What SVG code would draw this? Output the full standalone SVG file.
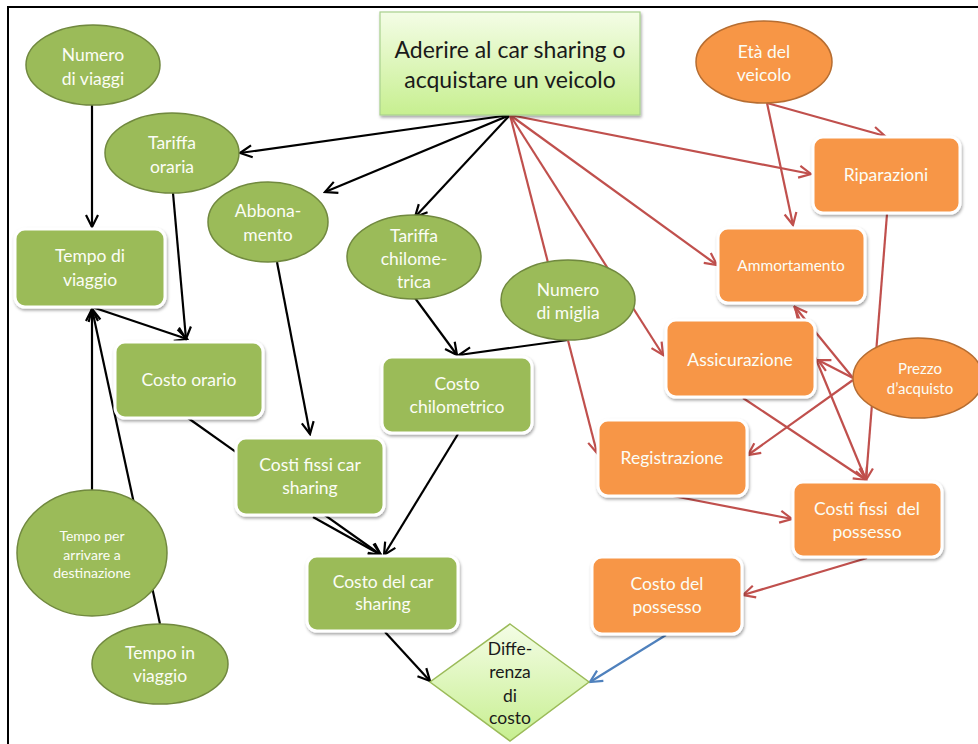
<svg xmlns="http://www.w3.org/2000/svg" width="978" height="744" viewBox="0 0 978 744">
<defs>
<style>
.t{font-family:Lato,"Liberation Sans",sans-serif;font-size:17.5px;fill:#fbfdf6;text-anchor:middle}
.ts{font-size:15.5px}
.tp{font-size:15px}
.tx{font-size:14px}
.dk{fill:#1a1a1a}
.ge{fill:#9bbb59;stroke:#71893f;stroke-width:1.5}
.oe{fill:#f79646;stroke:#b66d31;stroke-width:1.5}
.gr{fill:#9bbb59;stroke:#fff;stroke-width:3;filter:url(#sh)}
.or{fill:#f79646;stroke:#fff;stroke-width:3;filter:url(#sh)}
.k{stroke:#000;stroke-width:2.2;fill:none;marker-end:url(#ak)}
.r{stroke:#c0504d;stroke-width:2.2;fill:none;marker-end:url(#ar)}
.b{stroke:#4f81bd;stroke-width:2.2;fill:none;marker-end:url(#ab)}
</style>
<filter id="sh" x="-20%" y="-20%" width="140%" height="150%">
<feDropShadow dx="1" dy="2" stdDeviation="1.8" flood-color="#000" flood-opacity="0.35"/>
</filter>
<linearGradient id="lg" x1="0" y1="0" x2="0" y2="1">
<stop offset="0" stop-color="#f4fde6"/>
<stop offset="1" stop-color="#c7ef90"/>
</linearGradient>
<marker id="ak" viewBox="0 0 15 15" refX="13" refY="7.5" markerWidth="15" markerHeight="15" markerUnits="userSpaceOnUse" orient="auto">
<path d="M1,1.5 L13,7.5 L1,13.5" fill="none" stroke="#000" stroke-width="2.2"/>
</marker>
<marker id="ar" viewBox="0 0 15 15" refX="13" refY="7.5" markerWidth="15" markerHeight="15" markerUnits="userSpaceOnUse" orient="auto">
<path d="M1,1.5 L13,7.5 L1,13.5" fill="none" stroke="#c0504d" stroke-width="2.2"/>
</marker>
<marker id="ab" viewBox="0 0 15 15" refX="13" refY="7.5" markerWidth="15" markerHeight="15" markerUnits="userSpaceOnUse" orient="auto">
<path d="M1,1.5 L13,7.5 L1,13.5" fill="none" stroke="#4f81bd" stroke-width="2.2"/>
</marker>
</defs>
<rect width="978" height="744" fill="#fff"/>
<path d="M8,744 V7 H978" fill="none" stroke="#000" stroke-width="2"/>

<g id="connectors">
<line class="k" x1="510" y1="115" x2="240" y2="153"/>
<line class="k" x1="510" y1="115" x2="325" y2="192"/>
<line class="k" x1="510" y1="115" x2="415" y2="217"/>
<line class="k" x1="92" y1="105" x2="92" y2="227"/>
<line class="k" x1="173" y1="193" x2="186" y2="339"/>
<line class="k" x1="92" y1="307" x2="187" y2="339"/>
<line class="k" x1="92" y1="490" x2="92" y2="309"/>
<line class="k" x1="160" y1="624" x2="92" y2="309"/>
<line class="k" x1="277" y1="262" x2="310" y2="434"/>
<line class="k" x1="188" y1="418" x2="381" y2="555"/>
<line class="k" x1="313" y1="517" x2="381" y2="555"/>
<line class="k" x1="458" y1="434" x2="384" y2="555"/>
<line class="k" x1="415" y1="298" x2="457" y2="355"/>
<line class="k" x1="568" y1="340" x2="459" y2="355"/>
<line class="k" x1="385" y1="632" x2="430" y2="681"/>
<line class="b" x1="666" y1="635" x2="590" y2="682"/>
<line class="r" x1="510" y1="115" x2="811" y2="174"/>
<line class="r" x1="510" y1="115" x2="717" y2="265"/>
<line class="r" x1="510" y1="115" x2="663" y2="355"/>
<line class="r" x1="510" y1="115" x2="597" y2="453"/>
<line class="r" x1="767" y1="103" x2="885" y2="136"/>
<line class="r" x1="767" y1="103" x2="793" y2="225"/>
<line class="r" x1="887" y1="214" x2="866" y2="480"/>
<line class="r" x1="794" y1="306" x2="866" y2="480"/>
<line class="r" x1="743" y1="398" x2="866" y2="480"/>
<line class="r" x1="853" y1="378" x2="795" y2="307"/>
<line class="r" x1="853" y1="378" x2="818" y2="360"/>
<line class="r" x1="853" y1="380" x2="748" y2="455"/>
<line class="r" x1="673" y1="496" x2="792" y2="519"/>
<line class="r" x1="867" y1="558" x2="743" y2="595"/>
</g>

<g id="aderire">
<rect x="380" y="12" width="260" height="103" fill="url(#lg)" stroke="#a9d18e" stroke-width="1.2" filter="url(#sh)"/>
<text class="t dk" style="font-size:23px" x="510" y="58">Aderire al car sharing o</text>
<text class="t dk" style="font-size:23px" x="510" y="88">acquistare un veicolo</text>
</g>
<g id="numero-viaggi">
<ellipse class="ge" cx="93" cy="65" rx="67" ry="40"/>
<text class="t" x="93" y="61">Numero</text>
<text class="t" x="93" y="85">di viaggi</text>
</g>
<g id="tariffa-oraria">
<ellipse class="ge" cx="172" cy="153" rx="67" ry="40"/>
<text class="t" x="172" y="149">Tariffa</text>
<text class="t" x="172" y="173">oraria</text>
</g>
<g id="abbonamento">
<ellipse class="ge" cx="268" cy="222" rx="60" ry="40"/>
<text class="t" x="268" y="217">Abbona-</text>
<text class="t" x="268" y="241">mento</text>
</g>
<g id="tariffa-chilometrica">
<ellipse class="ge" cx="414" cy="257" rx="67" ry="42"/>
<text class="t" x="414" y="242">Tariffa</text>
<text class="t" x="414" y="265">chilome-</text>
<text class="t" x="414" y="288">trica</text>
</g>
<g id="numero-miglia">
<ellipse class="ge" cx="568" cy="300" rx="67" ry="40"/>
<text class="t" x="568" y="296">Numero</text>
<text class="t" x="568" y="319">di miglia</text>
</g>
<g id="tempo-viaggio">
<rect class="gr" x="15" y="229" width="150" height="78" rx="10"/>
<text class="t" x="90" y="262">Tempo di</text>
<text class="t" x="90" y="286">viaggio</text>
</g>
<g id="costo-orario">
<rect class="gr" x="115" y="342" width="148" height="76" rx="10"/>
<text class="t" x="189" y="386">Costo orario</text>
</g>
<g id="costo-chilometrico">
<rect class="gr" x="382" y="357" width="150" height="76" rx="10"/>
<text class="t" x="457" y="390">Costo</text>
<text class="t" x="457" y="413">chilometrico</text>
</g>
<g id="costi-fissi-car-sharing">
<rect class="gr" x="236" y="438" width="148" height="77" rx="10"/>
<text class="t" x="310" y="471">Costi fissi car</text>
<text class="t" x="310" y="494">sharing</text>
</g>
<g id="costo-car-sharing">
<rect class="gr" x="307" y="556" width="151" height="75" rx="10"/>
<text class="t" x="383" y="588">Costo del car</text>
<text class="t" x="383" y="610">sharing</text>
</g>
<g id="tempo-arrivare">
<ellipse class="ge" cx="92" cy="553" rx="75" ry="63"/>
<text class="t tx" x="92" y="541">Tempo per</text>
<text class="t tx" x="92" y="560">arrivare a</text>
<text class="t tx" x="92" y="578">destinazione</text>
</g>
<g id="tempo-in-viaggio">
<ellipse class="ge" cx="160" cy="664" rx="68" ry="40"/>
<text class="t" x="160" y="659">Tempo in</text>
<text class="t" x="160" y="682">viaggio</text>
</g>
<g id="eta-veicolo">
<ellipse class="oe" cx="764" cy="62" rx="68" ry="41"/>
<text class="t" x="764" y="58">Età del</text>
<text class="t" x="764" y="81">veicolo</text>
</g>
<g id="riparazioni">
<rect class="or" x="813" y="137" width="147" height="76" rx="10"/>
<text class="t" x="886" y="181">Riparazioni</text>
</g>
<g id="ammortamento">
<rect class="or" x="718" y="228" width="147" height="75" rx="10"/>
<text class="t ts" x="791" y="271">Ammortamento</text>
</g>
<g id="assicurazione">
<rect class="or" x="666" y="320" width="149" height="77" rx="10"/>
<text class="t" x="740" y="366">Assicurazione</text>
</g>
<g id="prezzo-acquisto">
<ellipse class="oe" cx="918" cy="378" rx="65" ry="40"/>
<text class="t tp" x="920" y="374">Prezzo</text>
<text class="t tp" x="920" y="394">d’acquisto</text>
</g>
<g id="registrazione">
<rect class="or" x="598" y="420" width="149" height="76" rx="10"/>
<text class="t" x="672" y="464">Registrazione</text>
</g>
<g id="costi-fissi-possesso">
<rect class="or" x="793" y="482" width="149" height="75" rx="10"/>
<text class="t" x="867" y="515" style="white-space:pre">Costi fissi  del</text>
<text class="t" x="867" y="538">possesso</text>
</g>
<g id="costo-possesso">
<rect class="or" x="592" y="557" width="150" height="77" rx="10"/>
<text class="t" x="667" y="590">Costo del</text>
<text class="t" x="667" y="613">possesso</text>
</g>
<g id="differenza">
<polygon points="510,624 589,682 510,741 430,682" fill="url(#lg)" stroke="#9bbb59" stroke-width="1.5"/>
<text class="t dk" x="510" y="655">Diffe-</text>
<text class="t dk" x="510" y="678">renza</text>
<text class="t dk" x="510" y="702">di</text>
<text class="t dk" x="510" y="724">costo</text>
</g>
</svg>
